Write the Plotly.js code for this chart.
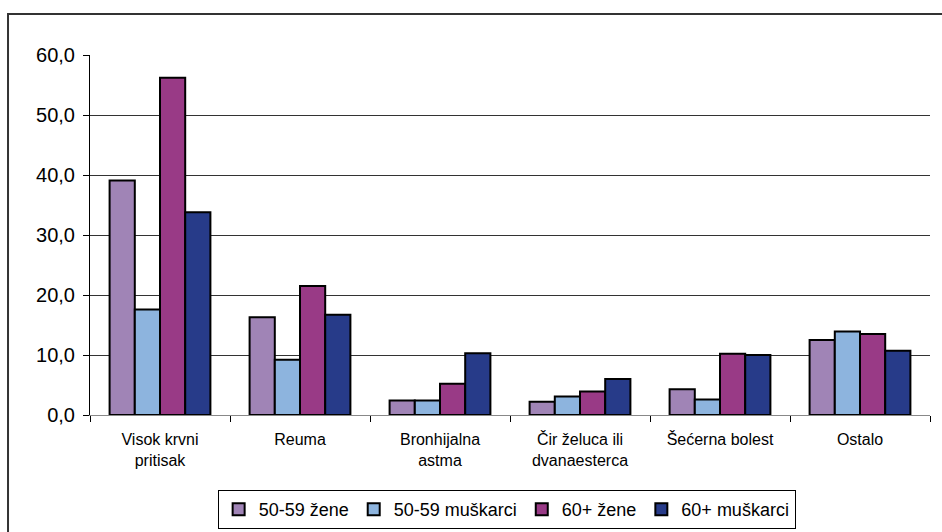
<!DOCTYPE html>
<html>
<head>
<meta charset="utf-8">
<script src="https://cdn.plot.ly/plotly-3.0.1.min.js"></script>
<style>
html,body{margin:0;padding:0;background:#fff;}
#chart{width:942px;height:532px;}
</style>
</head>
<body>
<div id="chart"></div>
<script>
var categories = ["Visok krvni<br>pritisak", "Reuma", "Bronhijalna<br>astma", "Čir želuca ili<br>dvanaesterca", "Šećerna bolest", "Ostalo"];
var seriesNames = ["50-59 žene", "50-59 muškarci", "60+ žene", "60+ muškarci"];
var zene5059 = [39.1, 16.3, 2.4, 2.2, 4.3, 12.5];
var muskarci5059 = [17.6, 9.2, 2.4, 3.1, 2.6, 13.9];
var zene60 = [56.2, 21.5, 5.2, 3.9, 10.2, 13.5];
var muskarci60 = [33.8, 16.7, 10.3, 6.0, 10.0, 10.7];
var colors = ["#A084B6", "#8DB4DE", "#993A86", "#273B89"];
var yTicks = [0, 10, 20, 30, 40, 50, 60];

var values = [zene5059, muskarci5059, zene60, muskarci60];
var traces = values.map(function(v, i){
  return {
    type: "bar",
    name: seriesNames[i],
    x: categories,
    y: v,
    marker: {color: colors[i], line: {color: "#000", width: 2}},
    hoverinfo: "y+name"
  };
});

var layout = {
  width: 942, height: 532,
  margin: {l: 90, r: 12, t: 55, b: 117, autoexpand: false},
  paper_bgcolor: "#fff", plot_bgcolor: "#fff",
  separators: ",.",
  barmode: "group",
  bargap: 0.28,
  bargroupgap: 0,
  font: {family: "Liberation Sans, Arial, sans-serif", color: "#000"},
  xaxis: {
    type: "category",
    tickson: "boundaries",
    ticks: "outside", ticklen: 6, tickcolor: "#000",
    ticklabelstandoff: 10,
    showline: true, linecolor: "#888", linewidth: 1,
    showgrid: false,
    tickfont: {size: 16, color: "#000"},
    automargin: false
  },
  yaxis: {
    range: [0, 60],
    tickvals: yTicks,
    tickformat: ".1f",
    ticks: "outside", ticklen: 6, tickcolor: "#000",
    ticklabelstandoff: 4,
    showline: true, linecolor: "#000", linewidth: 1,
    showgrid: true, gridcolor: "#333", gridwidth: 1,
    zeroline: false,
    tickfont: {size: 20, color: "#000"},
    automargin: false
  },
  showlegend: true,
  legend: {
    orientation: "h",
    x: 0.496, xanchor: "center",
    y: -0.2083, yanchor: "top",
    bordercolor: "#000", borderwidth: 1,
    font: {size: 18, color: "#000"},
    itemwidth: 30,
    tracegroupgap: 0
  },
  shapes: [{
    type: "rect", xref: "paper", yref: "paper",
    x0: -0.0976, x1: 1.2, y0: -1, y1: 1.1139,
    line: {color: "#333", width: 2}, fillcolor: "rgba(0,0,0,0)",
    layer: "above"
  }]
};

Plotly.newPlot("chart", traces, layout, {displayModeBar: false, staticPlot: true});
</script>
</body>
</html>
